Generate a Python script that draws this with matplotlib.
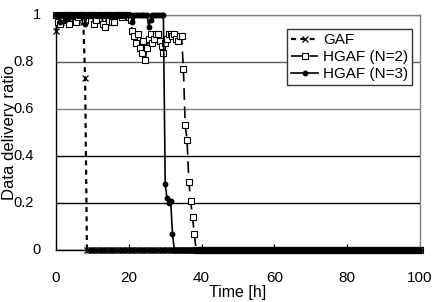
import numpy as np
import matplotlib
matplotlib.use("Agg")
import matplotlib.pyplot as plt
from matplotlib.transforms import blended_transform_factory

plt.rcParams['font.family'] = ['Liberation Sans', 'DejaVu Sans']

# sampling grid (hours)
time_h = np.arange(0, 100.5, 0.5)

gaf_ratio = [
    0.93, 0.98, 0.99, 0.97, 1.0, 0.98, 0.99, 0.96, 1.0, 0.99, 0.97, 1.0, 0.98, 0.99, 1.0, 0.97, 0.73, 0, 0, 0,
    0, 0, 0, 0, 0, 0, 0, 0, 0, 0, 0, 0, 0, 0, 0, 0, 0, 0, 0, 0,
    0, 0, 0, 0, 0, 0, 0, 0, 0, 0, 0, 0, 0, 0, 0, 0, 0, 0, 0, 0,
    0, 0, 0, 0, 0, 0, 0, 0, 0, 0, 0, 0, 0, 0, 0, 0, 0, 0, 0, 0,
    0, 0, 0, 0, 0, 0, 0, 0, 0, 0, 0, 0, 0, 0, 0, 0, 0, 0, 0, 0,
    0, 0, 0, 0, 0, 0, 0, 0, 0, 0, 0, 0, 0, 0, 0, 0, 0, 0, 0, 0,
    0, 0, 0, 0, 0, 0, 0, 0, 0, 0, 0, 0, 0, 0, 0, 0, 0, 0, 0, 0,
    0, 0, 0, 0, 0, 0, 0, 0, 0, 0, 0, 0, 0, 0, 0, 0, 0, 0, 0, 0,
    0, 0, 0, 0, 0, 0, 0, 0, 0, 0, 0, 0, 0, 0, 0, 0, 0, 0, 0, 0,
    0, 0, 0, 0, 0, 0, 0, 0, 0, 0, 0, 0, 0, 0, 0, 0, 0, 0, 0, 0,
    0,
]

hgaf2_ratio = [
    1.0, 0.97, 0.96, 1.0, 0.98, 1.0, 1.0, 0.96, 1.0, 1.0, 1.0, 0.97, 0.99, 1.0, 1.0, 1.0, 0.98, 1.0, 1.0, 1.0,
    1.0, 0.96, 0.98, 1.0, 1.0, 1.0, 0.96, 0.95, 1.0, 1.0, 1.0, 0.97, 0.97, 1.0, 1.0, 1.0, 0.99, 1.0, 1.0, 1.0,
    0.99, 0.98, 0.93, 0.91, 0.88, 0.92, 0.86, 0.84, 0.89, 0.81, 0.86, 0.90, 0.92, 0.88, 0.90, 0.92, 0.92, 0.89, 0.87, 0.84,
    0.88, 0.90, 0.92, 0.92, 0.91, 0.92, 0.90, 0.89, 0.91, 0.91, 0.77, 0.53, 0.47, 0.29, 0.21, 0.14, 0.07, 0, 0, 0,
    0, 0, 0, 0, 0, 0, 0, 0, 0, 0, 0, 0, 0, 0, 0, 0, 0, 0, 0, 0,
    0, 0, 0, 0, 0, 0, 0, 0, 0, 0, 0, 0, 0, 0, 0, 0, 0, 0, 0, 0,
    0, 0, 0, 0, 0, 0, 0, 0, 0, 0, 0, 0, 0, 0, 0, 0, 0, 0, 0, 0,
    0, 0, 0, 0, 0, 0, 0, 0, 0, 0, 0, 0, 0, 0, 0, 0, 0, 0, 0, 0,
    0, 0, 0, 0, 0, 0, 0, 0, 0, 0, 0, 0, 0, 0, 0, 0, 0, 0, 0, 0,
    0, 0, 0, 0, 0, 0, 0, 0, 0, 0, 0, 0, 0, 0, 0, 0, 0, 0, 0, 0,
    0,
]

hgaf3_ratio = [
    1.0, 1.0, 0.97, 1.0, 1.0, 0.98, 1.0, 1.0, 1.0, 1.0, 1.0, 1.0, 1.0, 1.0, 1.0, 1.0, 0.96, 1.0, 1.0, 1.0,
    1.0, 1.0, 1.0, 1.0, 1.0, 1.0, 1.0, 1.0, 1.0, 1.0, 1.0, 0.99, 1.0, 1.0, 1.0, 1.0, 1.0, 1.0, 1.0, 1.0,
    1.0, 1.0, 0.97, 1.0, 1.0, 1.0, 1.0, 1.0, 1.0, 1.0, 1.0, 0.95, 0.98, 1.0, 1.0, 1.0, 1.0, 1.0, 1.0, 1.0,
    0.28, 0.22, 0.20, 0.21, 0.07, 0, 0, 0, 0, 0, 0, 0, 0, 0, 0, 0, 0, 0, 0, 0,
    0, 0, 0, 0, 0, 0, 0, 0, 0, 0, 0, 0, 0, 0, 0, 0, 0, 0, 0, 0,
    0, 0, 0, 0, 0, 0, 0, 0, 0, 0, 0, 0, 0, 0, 0, 0, 0, 0, 0, 0,
    0, 0, 0, 0, 0, 0, 0, 0, 0, 0, 0, 0, 0, 0, 0, 0, 0, 0, 0, 0,
    0, 0, 0, 0, 0, 0, 0, 0, 0, 0, 0, 0, 0, 0, 0, 0, 0, 0, 0, 0,
    0, 0, 0, 0, 0, 0, 0, 0, 0, 0, 0, 0, 0, 0, 0, 0, 0, 0, 0, 0,
    0, 0, 0, 0, 0, 0, 0, 0, 0, 0, 0, 0, 0, 0, 0, 0, 0, 0, 0, 0,
    0,
]

series_labels = ["GAF", "HGAF (N=2)", "HGAF (N=3)"]
x_ticks = [0, 20, 40, 60, 80, 100]
y_ticks = [0, 0.2, 0.4, 0.6, 0.8, 1]
y_tick_labels = ["0", "0.2", "0.4", "0.6", "0.8", "1"]

fig = plt.figure(figsize=(4.46, 3.02), dpi=100)
ax = fig.add_axes([56 / 446, 52 / 302, 364 / 446, 235 / 302])

ax.plot(time_h, gaf_ratio, color='black', lw=1.6, dashes=(2.2, 2.0),
        marker='x', markersize=4.5, markeredgewidth=0.9, clip_on=False,
        label=series_labels[0], zorder=3)
ax.plot(time_h, hgaf2_ratio, color='black', lw=1.2, dashes=(7, 4),
        marker='s', markersize=3.8, markerfacecolor='white', markeredgecolor='black',
        markeredgewidth=0.8, clip_on=False, label=series_labels[1], zorder=4)
ax.plot(time_h, hgaf3_ratio, color='black', lw=1.2, linestyle='-',
        marker='o', markersize=3.2, clip_on=False, label=series_labels[2], zorder=5)

ax.set_xlim(0, 100)
ax.set_ylim(0, 1)
ax.set_xticks(x_ticks)
ax.set_xticklabels([str(v) for v in x_ticks], fontsize=11)
ax.set_yticks(y_ticks)
ax.set_yticklabels([])
ax.tick_params(axis='x', direction='in', length=4, width=0.8, pad=15, top=False)
ax.tick_params(axis='y', length=0)

ax.yaxis.grid(True, linewidth=1.0)
grid_colors = ['black', 'black', 'black', '#808080', '#606060', '#808080']
for gl, c in zip(ax.get_ygridlines(), grid_colors):
    gl.set_color(c)

for side in ['left', 'bottom']:
    ax.spines[side].set_color('black')
    ax.spines[side].set_linewidth(1.0)
for side in ['top', 'right']:
    ax.spines[side].set_color('#808080')
    ax.spines[side].set_linewidth(1.0)

trans = blended_transform_factory(ax.transAxes, ax.transData)
for v, lab in zip(y_ticks, y_tick_labels):
    xr = -0.041 if lab in ("0", "1") else -0.060
    ax.text(xr, v, lab, transform=trans, ha='right', va='center', fontsize=10.5)

fig.text(10 / 446, 1 - 132 / 302, "Data delivery ratio", rotation=90,
         ha='center', va='center', fontsize=12)
fig.text((56 + 182) / 446, 1 - 292 / 302, "Time [h]", ha='center', va='center',
         fontsize=11.5)

leg = ax.legend(loc='upper left', bbox_to_anchor=(0.635, 0.94), borderaxespad=0,
                fancybox=False, edgecolor='#333333', framealpha=1, fontsize=11,
                handlelength=1.8, handletextpad=0.3, labelspacing=0.2,
                borderpad=0.25, numpoints=1)
leg.get_frame().set_linewidth(1.0)

fig.savefig("out.png", dpi=100)
